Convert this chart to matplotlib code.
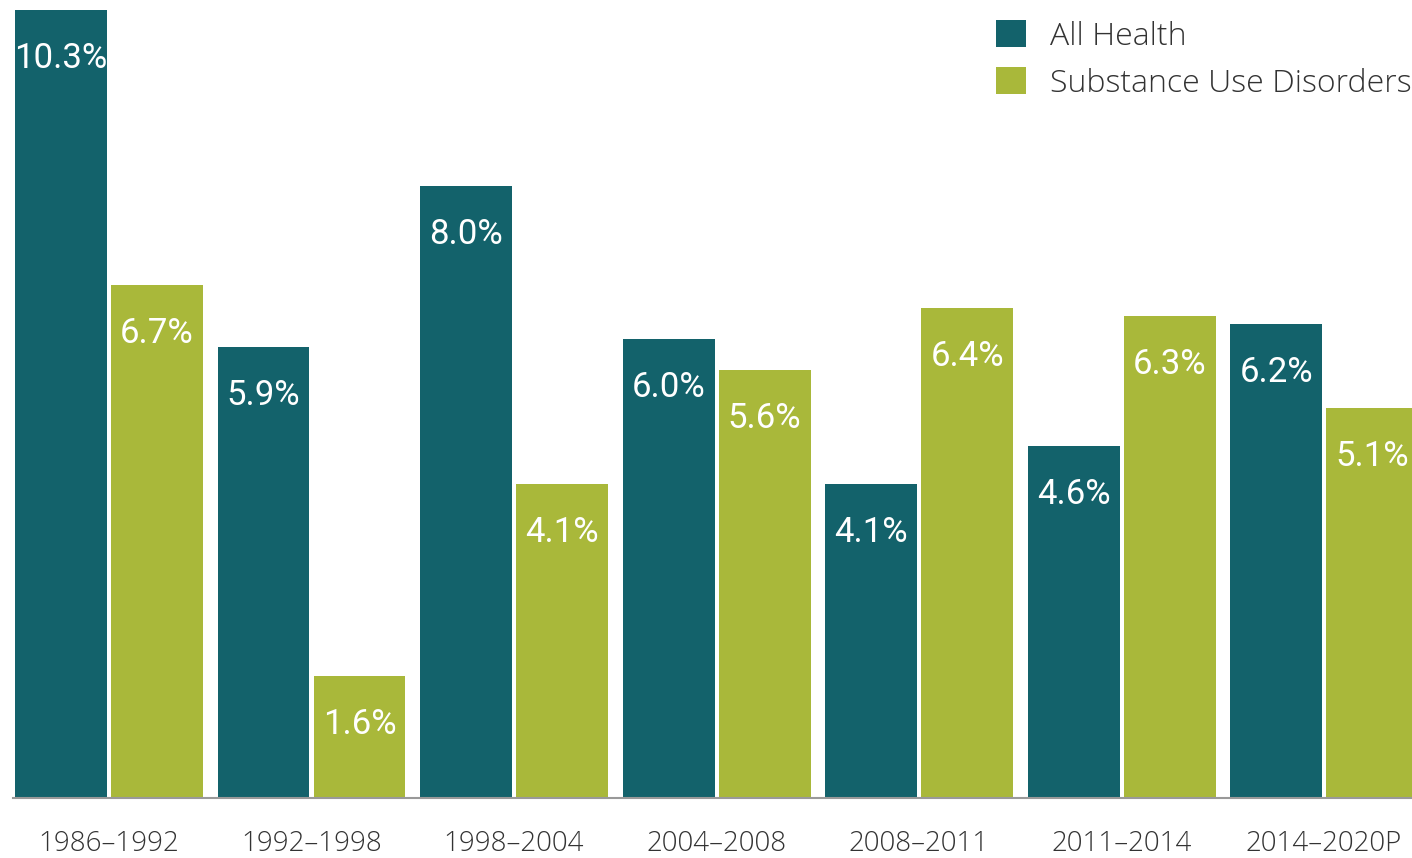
import numpy as np
import matplotlib
matplotlib.use("Agg")
import matplotlib.pyplot as plt

periods = ["1986–1992", "1992–1998", "1998–2004", "2004–2008",
           "2008–2011", "2011–2014", "2014–2020P"]
all_health = [10.3, 5.9, 8.0, 6.0, 4.1, 4.6, 6.2]
substance_use = [6.7, 1.6, 4.1, 5.6, 6.4, 6.3, 5.1]

teal = "#13626B"
green = "#A9B83A"
txt_font = "Open Sans"

fig = plt.figure(figsize=(14.12, 8.58), dpi=100)
ax = fig.add_axes([13 / 1412, 60 / 858, 1399 / 1412, 798 / 858])

x = np.arange(len(periods))
w = 0.454
off = 0.237
b1 = ax.bar(x - off, all_health, w, color=teal, label="All Health")
b2 = ax.bar(x + off, substance_use, w, color=green, label="Substance Use Disorders")

# value labels inside bar tops
for bars, vals in [(b1, all_health), (b2, substance_use)]:
    for rect, v in zip(bars, vals):
        ax.annotate(f"{v:.1f}%", (rect.get_x() + rect.get_width() / 2, v),
                    xytext=(0, -35), textcoords="offset points",
                    ha="center", va="center", color="white",
                    family="Roboto", fontsize=25)

ax.set_xlim(-0.474, 6.434)
ax.set_ylim(0, 10.43)
ax.set_yticks([])
ax.set_xticks(x)
ax.set_xticklabels(periods, fontsize=20, family=txt_font, fontweight="light",
                   color="#333333")
ax.tick_params(axis="x", length=0, pad=23)
for s in ["top", "right", "left"]:
    ax.spines[s].set_visible(False)
ax.spines["bottom"].set_color("#999999")
ax.spines["bottom"].set_linewidth(1.5)

leg = ax.legend(loc="upper left", bbox_to_anchor=(996 / 1412, 1 - 20 / 858),
                bbox_transform=fig.transFigure, frameon=False,
                handlelength=0.93, handleheight=0.93, handletextpad=0.75,
                labelspacing=0.45, borderaxespad=0, borderpad=0,
                prop={"family": txt_font, "weight": "light", "size": 23})
for t in leg.get_texts():
    t.set_color("#333333")

fig.savefig("out.png", dpi=100)
